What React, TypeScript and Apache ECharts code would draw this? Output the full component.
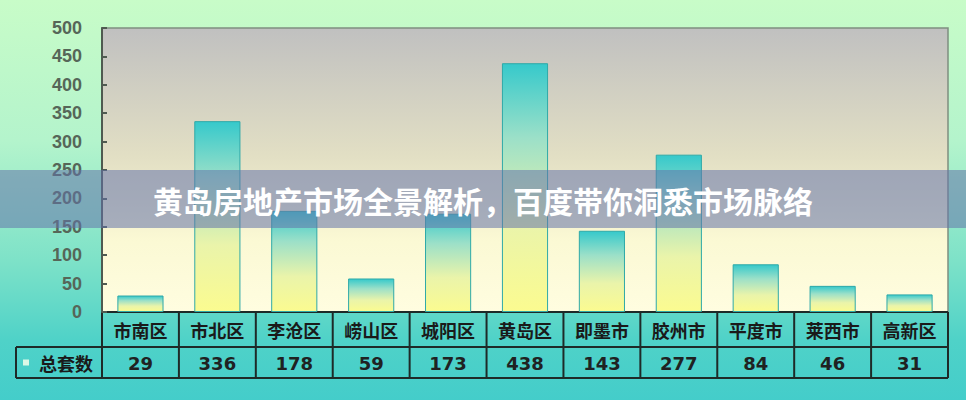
import React, { useEffect, useRef } from "react";
import * as echarts from "echarts";

const categories = ["市南区", "市北区", "李沧区", "崂山区", "城阳区", "黄岛区", "即墨市", "胶州市", "平度市", "莱西市", "高新区"];
const totals = [29, 336, 178, 59, 173, 438, 143, 277, 84, 46, 31];
const seriesName = "总套数";
const yMax = 500;
const yInterval = 50;
const bannerTitle = "黄岛房地产市场全景解析，百度带你洞悉市场脉络";

const W = 966;
const H = 400;
const GL = 102;
const GR = 18;
const GT = 28;
const GB = 88;

export default function App() {
  const ref = useRef<HTMLDivElement>(null);
  useEffect(() => {
    document.body.style.margin = "0";
    if (!ref.current) return;
    const chart = echarts.init(ref.current, undefined, { renderer: "svg" });
    const plotW = W - GL - GR;
    const axisY = H - GB;
    const row1 = axisY + 35;
    const row2 = axisY + 66;
    const colW = plotW / categories.length;
    const lineStyle = { stroke: "#1e2a28", lineWidth: 2 };
    const lines: any[] = [
      { type: "line", shape: { x1: GL, y1: axisY, x2: W - GR, y2: axisY }, style: lineStyle },
      { type: "line", shape: { x1: 16, y1: row1, x2: W - GR, y2: row1 }, style: lineStyle },
      { type: "line", shape: { x1: 16, y1: row2, x2: W - GR, y2: row2 }, style: lineStyle },
      { type: "line", shape: { x1: 16, y1: row1, x2: 16, y2: row2 }, style: lineStyle },
    ];
    for (let i = 0; i <= categories.length; i++) {
      const x = GL + i * colW;
      lines.push({ type: "line", shape: { x1: x, y1: axisY, x2: x, y2: row2 }, style: lineStyle });
    }
    chart.setOption({
      animation: false,
      backgroundColor: "transparent",
      grid: {
        left: GL,
        right: GR,
        top: GT,
        bottom: GB,
        show: true,
        borderColor: "#7f8f80",
        borderWidth: 1.5,
        backgroundColor: {
          type: "linear", x: 0, y: 0, x2: 0, y2: 1,
          colorStops: [
            { offset: 0, color: "#c0c0c0" },
            { offset: 0.45, color: "#e2dfc4" },
            { offset: 0.75, color: "#fbf9d4" },
            { offset: 1, color: "#fffde0" },
          ],
        },
      },
      xAxis: [
        {
          type: "category",
          data: categories,
          axisLine: { show: false },
          axisTick: { show: false },
          axisLabel: {
            margin: 9,
            fontSize: 18,
            fontWeight: "bold",
            color: "#1a1a1a",
            fontFamily: "Noto Sans CJK SC",
          },
        },
        {
          type: "category",
          position: "bottom",
          offset: 35,
          data: totals.map(String),
          axisLine: { show: false },
          axisTick: { show: false },
          axisLabel: {
            margin: 7,
            fontSize: 18,
            fontWeight: "bold",
            color: "#1f2222",
            fontFamily: "DejaVu Sans",
          },
        },
      ],
      yAxis: {
        type: "value",
        min: 0,
        max: yMax,
        interval: yInterval,
        splitLine: { show: false },
        axisLine: { show: true, lineStyle: { color: "#4f5a50", width: 2 } },
        axisTick: { show: true, inside: true, length: 5, lineStyle: { color: "#4f5a50", width: 2 } },
        axisLabel: {
          margin: 20,
          fontSize: 18,
          fontWeight: "bold",
          color: "#566658",
          fontFamily: "Liberation Sans",
        },
      },
      series: [
        {
          name: seriesName,
          type: "bar",
          xAxisIndex: 0,
          data: totals,
          barWidth: "60%",
          itemStyle: {
            borderColor: "#2ea9a8",
            borderWidth: 1,
            color: {
              type: "linear", x: 0, y: 0, x2: 0, y2: 1,
              colorStops: [
                { offset: 0, color: "#36c9cb" },
                { offset: 0.3, color: "#9ce0c8" },
                { offset: 0.65, color: "#eaf4aa" },
                { offset: 1, color: "#fbfb90" },
              ],
            },
          },
        },
      ],
      graphic: [
        ...lines,
        { type: "rect", shape: { x: 23, y: (row1 + row2) / 2 - 3, width: 6, height: 6 }, style: { fill: "#dcf8e6" } },
        {
          type: "text",
          x: 66,
          y: (row1 + row2) / 2,
          style: {
            text: seriesName,
            fontSize: 18,
            fontWeight: "bold",
            fill: "#1a1a1a",
            fontFamily: "Noto Sans CJK SC",
            align: "center",
            verticalAlign: "middle",
          },
        },
        {
          type: "rect",
          z: 100,
          shape: { x: 0, y: 170, width: W, height: 58 },
          style: { fill: "rgba(100,115,170,0.55)" },
        },
        {
          type: "text",
          z: 101,
          x: 483,
          y: 200,
          style: {
            text: bannerTitle,
            fontSize: 30,
            fontWeight: "bold",
            fill: "#ffffff",
            fontFamily: "Noto Sans CJK SC",
            align: "center",
            verticalAlign: "middle",
          },
        },
      ],
    });
    return () => chart.dispose();
  }, []);
  return (
    <div
      ref={ref}
      style={{
        width: W,
        height: H,
        background: "linear-gradient(180deg, #c8fcc8 0%, #b4f4cc 35%, #7ee2c8 65%, #4fd2c8 85%, #44cdca 100%)",
      }}
    />
  );
}
